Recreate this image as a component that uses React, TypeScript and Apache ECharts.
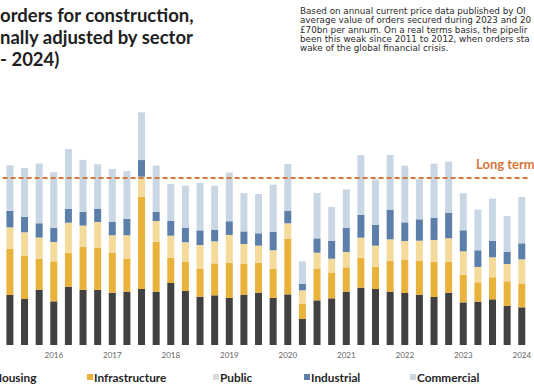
import React, { useEffect, useRef } from "react";
import * as echarts from "echarts";

const quarters = [
  "2015 Q2", "2015 Q3", "2015 Q4",
  "2016 Q1", "2016 Q2", "2016 Q3", "2016 Q4",
  "2017 Q1", "2017 Q2", "2017 Q3", "2017 Q4",
  "2018 Q1", "2018 Q2", "2018 Q3", "2018 Q4",
  "2019 Q1", "2019 Q2", "2019 Q3", "2019 Q4",
  "2020 Q1", "2020 Q2", "2020 Q3", "2020 Q4",
  "2021 Q1", "2021 Q2", "2021 Q3", "2021 Q4",
  "2022 Q1", "2022 Q2", "2022 Q3", "2022 Q4",
  "2023 Q1", "2023 Q2", "2023 Q3", "2023 Q4",
  "2024 Q1",
];

// £bn per quarter
const housing = [
  6.25, 5.75, 6.92, 5.46, 7.29, 6.88, 6.88, 6.54, 6.67, 7.0, 6.67, 7.75,
  6.75, 6.04, 6.21, 5.88, 6.29, 6.54, 5.88, 6.33, 3.25, 5.58, 5.83, 6.67,
  7.17, 7.0, 6.67, 6.5, 6.29, 6.0, 6.54, 5.33, 5.42, 5.71, 4.88, 4.71,
];
const infrastructure = [
  5.75, 5.42, 3.88, 5.0, 4.25, 5.42, 5.25, 4.96, 4.08, 11.54, 6.25, 3.17,
  3.63, 3.46, 4.0, 4.42, 3.83, 3.75, 3.67, 6.96, 1.88, 3.92, 3.17, 3.04,
  3.75, 2.79, 3.83, 4.17, 4.21, 4.42, 3.88, 3.46, 2.42, 2.75, 3.08, 2.92,
];
const publicSector = [
  2.71, 2.92, 2.63, 2.42, 3.75, 2.63, 3.25, 2.21, 2.96, 2.5, 2.58, 2.75,
  2.46, 3.0, 2.75, 3.46, 2.5, 2.13, 2.29, 1.92, 1.71, 2.04, 1.79, 1.92,
  2.5, 2.63, 2.71, 2.33, 2.54, 2.71, 2.92, 2.92, 1.92, 2.5, 2.17, 3.08,
];
const industrial = [
  2.04, 1.92, 1.79, 1.79, 1.75, 1.71, 1.67, 1.71, 2.04, 2.08, 1.17, 1.83,
  1.83, 1.83, 1.46, 1.71, 1.58, 1.54, 2.33, 1.58, 0.83, 1.79, 2.25, 3.0,
  2.83, 2.58, 3.71, 2.33, 2.67, 2.79, 3.21, 2.63, 2.08, 2.04, 1.54, 2.0,
];
const commercial = [
  5.71, 6.13, 7.46, 6.92, 7.46, 6.5, 5.54, 6.58, 6.0, 5.96, 5.75, 4.63,
  5.25, 5.92, 5.5, 6.08, 4.79, 4.92, 5.88, 5.83, 2.79, 5.67, 4.21, 4.83,
  7.5, 5.71, 6.83, 7.08, 5.0, 6.75, 6.38, 4.63, 5.08, 5.29, 4.46, 5.79,
];
const longTermAverage = 20.9;

const seriesNames = ["Housing", "Infrastructure", "Public", "Industrial", "Commercial"];
const seriesColors = ["#414141", "#e9b23b", "#f4da9b", "#5b7fa9", "#c9d6e4"];
const legendMarkerColors = ["#414141", "#e9b23b", "#d6dde0", "#5b7fa9", "#cdd7e2"];

const titleLines = ["orders for construction,", "nally adjusted by sector", "- 2024)"];
const noteLines = [
  "Based on annual current price data published by OI",
  "average value of orders secured during 2023 and 20",
  "£70bn per annum. On a real terms basis, the pipelir",
  "been this weak since 2011 to 2012, when orders sta",
  "wake of the global financial crisis.",
];

export default function App() {
  const ref = useRef<HTMLDivElement>(null);
  useEffect(() => {
    if (!ref.current) return;
    const chart = echarts.init(ref.current, null, { renderer: "svg" });
    const data = [housing, infrastructure, publicSector, industrial, commercial];
    const legendX = [-7, 87, 213, 304, 410];
    const legendGraphics: any[] = [];
    seriesNames.forEach((name, i) => {
      if (i > 0) {
        legendGraphics.push({
          type: "rect",
          shape: { x: legendX[i], y: 374, width: 6, height: 6 },
          style: { fill: legendMarkerColors[i] },
        });
      }
      legendGraphics.push({
        type: "text",
        x: i === 0 ? legendX[i] : legendX[i] + 7,
        y: 377,
        style: {
          text: name,
          fill: "#1f1f1f",
          fontFamily: "Lato",
          fontWeight: "bold",
          fontSize: 11.8,
          verticalAlign: "middle",
        },
      });
    });
    chart.setOption({
      animation: false,
      grid: { left: 2.6, right: 1, top: 105, bottom: 43 },
      xAxis: {
        type: "category",
        data: quarters,
        axisLine: { show: false },
        axisTick: { show: false },
        axisLabel: {
          interval: (idx: number) => idx % 4 === 3,
          formatter: (v: string) => v.slice(0, 4),
          color: "#666",
          fontSize: 8,
          fontFamily: "Lato",
          margin: 6,
        },
      },
      yAxis: {
        type: "value",
        min: 0,
        max: 30,
        show: false,
        splitLine: { show: false },
      },
      series: seriesNames.map((name, i) => ({
        name,
        type: "bar",
        stack: "total",
        barWidth: 7,
        data: data[i],
        itemStyle: { color: seriesColors[i] },
        ...(i === 4
          ? {
              markLine: {
                silent: true,
                symbol: ["none", "none"],
                label: { show: false },
                lineStyle: { color: "#d8773d", width: 2, type: [5, 3] },
                data: [{ yAxis: longTermAverage }],
              },
            }
          : {}),
      })),
      graphic: [
        {
          type: "text",
          x: 0,
          y: 4,
          style: {
            text: titleLines.join("\n"),
            fill: "#1e1e1e",
            fontFamily: "Lato",
            fontWeight: "bold",
            fontSize: 18.5,
            lineHeight: 22,
            verticalAlign: "top",
          },
        },
        {
          type: "text",
          x: 300,
          y: 6.3,
          scaleX: 1.11,
          style: {
            text: noteLines.join("\n"),
            fill: "#2a2a2a",
            fontFamily: "DejaVu Sans",
            fontSize: 7.9,
            lineHeight: 9.35,
            verticalAlign: "top",
          },
        },
        {
          type: "text",
          x: 476,
          y: 164,
          style: {
            text: "Long term",
            fill: "#d4773c",
            fontFamily: "Lato",
            fontWeight: "bold",
            fontSize: 13,
            verticalAlign: "middle",
          },
        },
        ...legendGraphics,
      ],
    });
    return () => chart.dispose();
  }, []);
  return (
    <div
      ref={ref}
      style={{ position: "fixed", left: 0, top: 0, width: 534, height: 388, background: "#fff" }}
    />
  );
}
